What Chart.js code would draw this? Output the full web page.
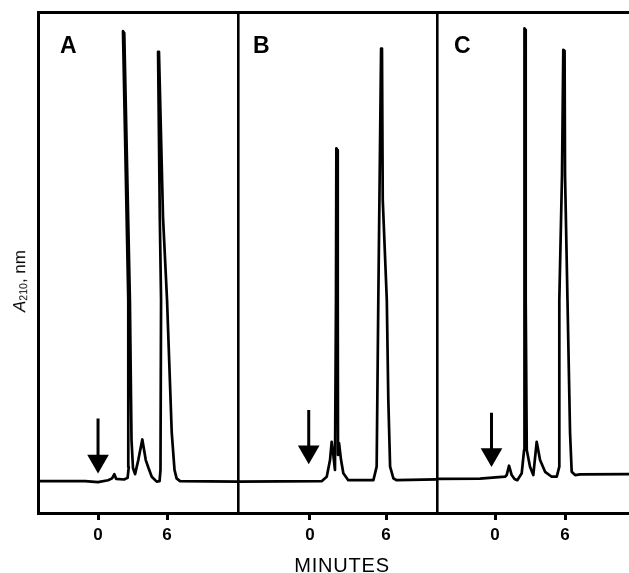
<!DOCTYPE html>
<html>
<head>
<meta charset="utf-8">
<script src="https://cdn.jsdelivr.net/npm/chart.js@4.4.0/dist/chart.umd.min.js"></script>
<style>
  html, body { margin:0; padding:0; background:#fff; overflow:hidden; }
  #wrap { position:relative; width:629px; height:573px; }
  canvas { position:absolute; left:0; top:0; }
  .lbl { position:absolute; font-family:"Liberation Sans", Arial, sans-serif; color:#000; line-height:1; white-space:nowrap; }
  .panel { font-size:23px; font-weight:bold; top:34px; }
  #ylab { font-size:17px; left:19.5px; top:281px; transform:translate(-50%,-50%) rotate(-90deg); }
  #ylab .sub { font-size:0.62em; vertical-align:-0.2em; }
  #xlab { font-size:20px; letter-spacing:0.8px; top:555px; left:342px; transform:translateX(-50%); }
</style>
</head>
<body>
<div id="wrap">
  <canvas id="cA" width="629" height="573"></canvas>
  <canvas id="cB" width="629" height="573"></canvas>
  <canvas id="cC" width="629" height="573"></canvas>
  <div class="lbl panel" style="left:60px">A</div>
  <div class="lbl panel" style="left:253px">B</div>
  <div class="lbl panel" style="left:454px">C</div>
  <div class="lbl" id="ylab"><i>A</i><span class="sub">210</span>, nm</div>
  <div class="lbl" id="xlab">MINUTES</div>
</div>
<script>
// ---- data (x in minutes, y in relative absorbance) ----
const panelNames = ['A', 'B', 'C'];
const tickValues = [0, 6];
const tickLabels = ['0', '6'];
const xMin = [-5.22, -5.68, -4.97];
const xMax = [12.17, 10.02, 11.48];
const yMin = -7;
const yMax = 100;

const traceA_t = [-5.22,-1.13,0,0.87,1.22,1.42,1.57,2.26,2.57,2.67,2.63,2.17,2.28,2.77,2.91,3.04,3.22,3.50,3.85,4.15,4.39,4.67,5.10,5.35,5.43,5.48,5.37,5.22,5.30,5.65,6.0,6.41,6.65,6.83,7.13,12.17];
const traceA_a = [-0.2,-0.2,-0.4,0,0.4,1.3,0.3,0.15,0.5,2.8,38.5,95.9,95.5,38.5,8.6,2.6,1.3,4.3,8.7,4.3,2.6,0.75,-0.3,-0.2,2.2,38.5,56.2,91.5,91.2,56.2,38.5,10.1,2.2,0.4,-0.2,-0.3];

const traceB_t = [-5.68,0.92,1.32,1.58,1.71,1.84,1.97,2.05,2.08,2.16,2.19,2.21,2.29,2.45,2.63,3.02,5.00,5.26,5.39,5.61,5.68,5.74,6.06,6.18,6.32,6.58,6.84,10.02];
const traceB_a = [-0.3,-0.2,0.75,4.3,8.2,5.4,2.2,38.5,70.9,70.5,38.5,5.4,7.95,4.3,1.5,0,0,2.9,38.5,92.2,91.9,59.9,38.5,17.1,2.9,0.4,0,0.2];

const traceC_t = [-4.97,-1.29,0.86,1.0,1.2,1.43,1.67,1.91,2.29,2.49,2.55,2.5,2.58,2.63,2.72,3.0,3.28,3.57,3.86,4.29,4.86,5.29,5.51,5.51,5.74,5.85,5.96,6.0,6.21,6.43,6.57,6.86,7.29,11.48];
const traceC_a = [0.3,0.35,0.75,1.1,3.1,1.1,0.26,0,1.5,6.45,38.5,96.5,96.2,38.5,6.45,2.9,1.1,8.2,4.3,1.8,0.75,0.75,2.9,38.5,65.2,91.9,91.7,65.2,38.5,10.1,1.8,1.1,1.26,1.3];

// injection arrows (time, top of shaft, head centre)
const arrowX = [0, -0.1, -0.3];
const arrowTop = [13.2, 15.0, 14.4];
const arrowHead = [4.1, 6.1, 5.5];

const traces = [[traceA_t, traceA_a], [traceB_t, traceB_a], [traceC_t, traceC_a]];
const canvasIds = ['cA', 'cB', 'cC'];
// chart-area placement of each panel
const panelPad = [
  {left:38, right:391, top:12, bottom:20},
  {left:238, right:192, top:12, bottom:20},
  {left:437, right:0, top:12, bottom:20}
];

const black = '#000';
panelNames.forEach((name, i) => {
  const [t, a] = traces[i];
  const pts = t.map((v, k) => ({x: v, y: a[k]}));
  new Chart(document.getElementById(canvasIds[i]), {
    type: 'line',
    data: {
      datasets: [
        { label: name, data: pts, borderColor: black, borderWidth: 2.7, pointRadius: 0,
          tension: 0, fill: false, borderJoinStyle: 'round', borderCapStyle: 'round' },
        { label: name + ' injection', data: [{x: arrowX[i], y: arrowTop[i]}, {x: arrowX[i], y: arrowHead[i]}],
          borderColor: black, borderWidth: 3, pointRadius: [0, 12.5], pointStyle: 'triangle',
          rotation: 180, pointBackgroundColor: black, pointBorderColor: black, pointBorderWidth: 0,
          fill: false, tension: 0, clip: false }
      ]
    },
    options: {
      responsive: false, animation: false, events: [],
      layout: { padding: panelPad[i], autoPadding: false },
      plugins: { legend: { display: false }, tooltip: { enabled: false }, title: { display: false } },
      scales: {
        x: {
          type: 'linear', position: 'bottom', min: xMin[i], max: xMax[i],
          afterBuildTicks: s => { s.ticks = tickValues.map(v => ({value: v})); },
          afterFit: s => { s.height = 40; },
          ticks: { autoSkip: false, maxRotation: 0, padding: 5, color: black,
                   font: { family: '"Liberation Sans", Arial, sans-serif', size: 17, weight: 'bold' },
                   callback: v => tickLabels[tickValues.indexOf(v)] },
          grid: { display: true, drawOnChartArea: false, drawTicks: true, tickLength: 7, tickWidth: 3, tickColor: black, color: black },
          border: { display: true, color: black, width: 3 }
        },
        xTop: {
          type: 'linear', position: 'top', axis: 'x', min: 0, max: 1,
          afterFit: s => { s.height = 0; },
          ticks: { display: false },
          grid: { display: true, drawOnChartArea: false, drawTicks: false },
          border: { display: true, color: black, width: 3 }
        },
        y: {
          type: 'linear', position: 'left', min: yMin, max: yMax,
          afterFit: s => { s.width = 0; },
          ticks: { display: false },
          grid: { display: true, drawOnChartArea: false, drawTicks: false },
          border: { display: true, color: black, width: i === 0 ? 3 : 2.6 }
        }
      }
    }
  });
});
</script>
</body>
</html>
